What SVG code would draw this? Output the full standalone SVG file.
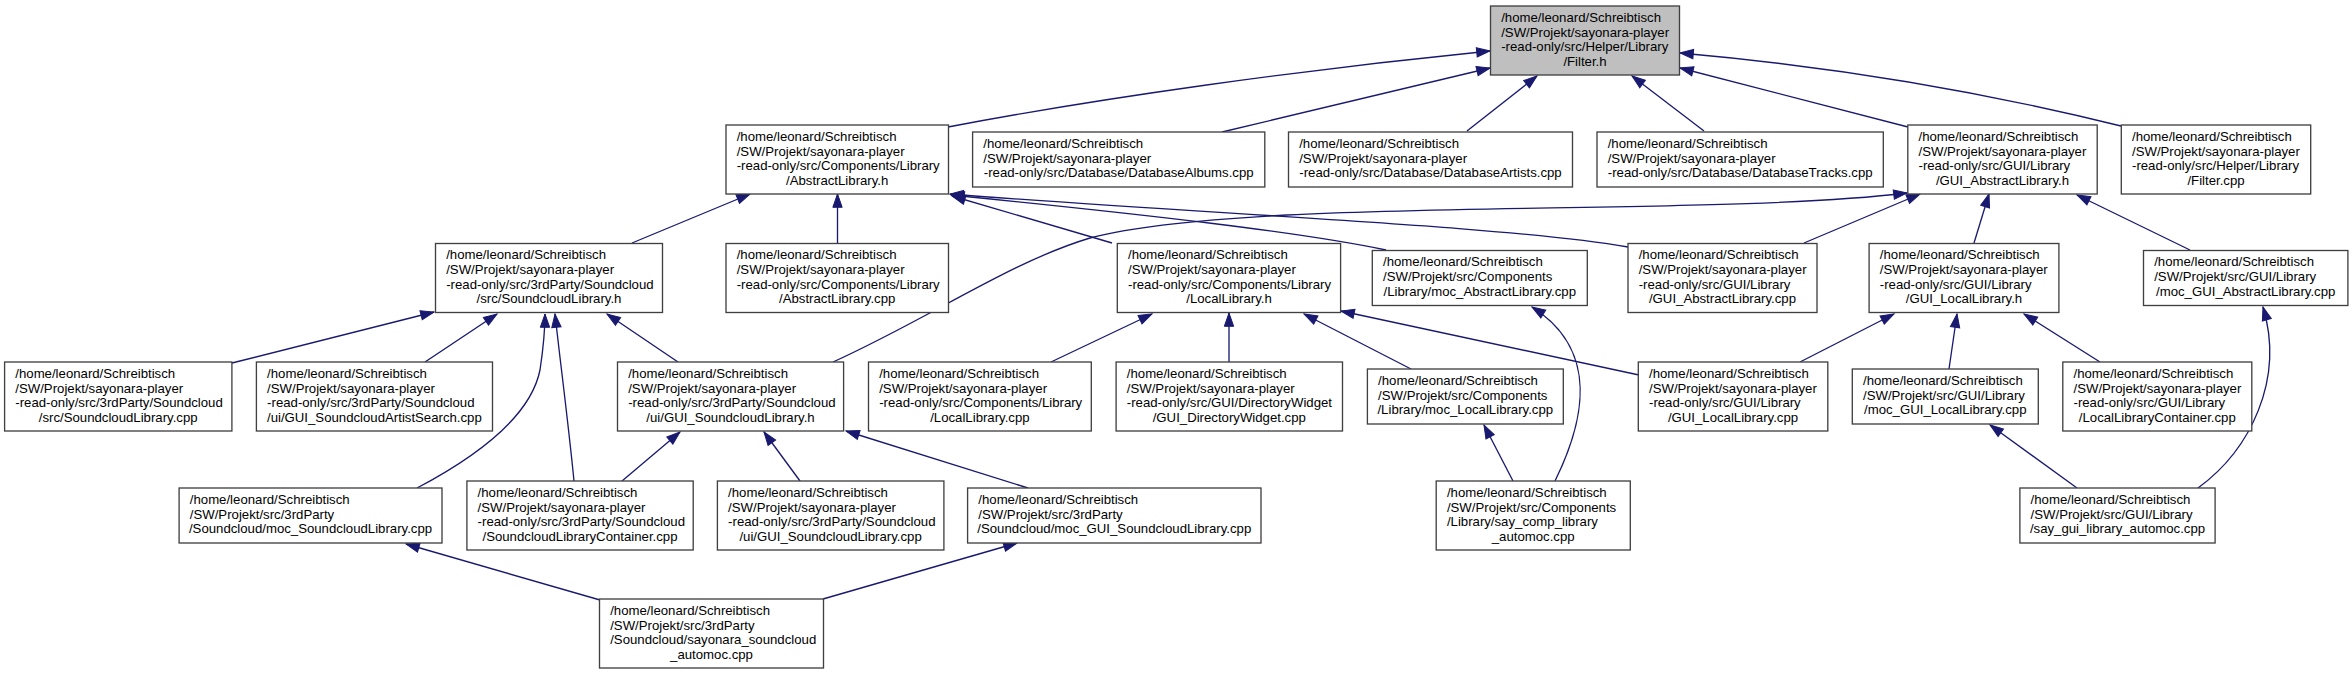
<svg xmlns="http://www.w3.org/2000/svg" width="2352" height="675" viewBox="0 0 2352 675">
<style>
.node rect{fill:#fff;stroke:#404040;stroke-width:1.33}
.node rect.main{fill:#bfbfbf}
.node text{font-family:"Liberation Sans",Arial,sans-serif;font-size:13.2px;fill:#000}
.node text.c{text-anchor:middle}
.edges path{fill:none;stroke:#191970;stroke-width:1.33;marker-end:url(#arr)}
</style>
<defs>
<marker id="arr" markerUnits="userSpaceOnUse" markerWidth="14" markerHeight="10" refX="13.3" refY="4.67" orient="auto" overflow="visible">
<path d="M0,0 L13.3,4.67 L0,9.33 z" fill="#191970" stroke="#191970" stroke-width="1"/>
</marker>
</defs>
<rect width="2352" height="675" fill="#fff"/>
<g class="edges">
<path d="M948,127 C1100,98 1300,70 1490,51"/>
<path d="M1222,132 L1490,68"/>
<path d="M1467,131 L1537,76"/>
<path d="M1704,131 L1632,76"/>
<path d="M1908,127 L1680,68"/>
<path d="M2121,126 C2000,96 1850,68 1680,53"/>
<path d="M632,243 L750,194"/>
<path d="M837.5,243 L837.5,194"/>
<path d="M1112,243 L952,196"/>
<path d="M1386,250 C1300,232 1150,215 951,195"/>
<path d="M1628,247 C1500,225 1200,214 950,194"/>
<path d="M833,362 C930,318 1010,262 1090,238 C1250,196 1700,218 1907,193"/>
<path d="M1804,243 L1920,194"/>
<path d="M1974,243 L1989,194"/>
<path d="M2190,250 L2077,195"/>
<path d="M232,363 L434,312"/>
<path d="M425,362 L497,314"/>
<path d="M417,488 C470,460 530,420 540,370 C543,350 545,330 545,314"/>
<path d="M574,481 C568,420 560,360 555,314"/>
<path d="M678,362 L607,314"/>
<path d="M622,481 L680,432"/>
<path d="M800,481 L764,432"/>
<path d="M1028,488 L846,431"/>
<path d="M600,600 L406,544"/>
<path d="M823,599 L1017,543"/>
<path d="M1051,362 L1152,314"/>
<path d="M1229,362 L1229,313"/>
<path d="M1411,369 L1304,314"/>
<path d="M1639,375 L1341,311"/>
<path d="M1800,362 L1894,314"/>
<path d="M1949,369 L1957,314"/>
<path d="M2100,362 L2024,314"/>
<path d="M1555,481 C1585,420 1600,350 1532,307"/>
<path d="M1513,481 L1484,425"/>
<path d="M2077,488 L1990,425"/>
<path d="M2198,488 C2250,450 2285,380 2263,307"/>
</g>
<g id="n_filter_h" class="node"><rect class="main" x="1490.5" y="6" width="189" height="69"/>
<text x="1501.2" y="21.8">/home/leonard/Schreibtisch</text><text x="1501.2" y="36.5">/SW/Projekt/sayonara-player</text><text x="1501.2" y="51.1">-read-only/src/Helper/Library</text><text class="c" x="1585" y="65.8">/Filter.h</text></g>
<g id="n_abstractlibrary_h" class="node"><rect x="726" y="125" width="222.5" height="69"/>
<text x="736.7" y="140.8">/home/leonard/Schreibtisch</text><text x="736.7" y="155.5">/SW/Projekt/sayonara-player</text><text x="736.7" y="170.1">-read-only/src/Components/Library</text><text class="c" x="837.2" y="184.8">/AbstractLibrary.h</text></g>
<g id="n_databasealbums" class="node"><rect x="972.6" y="132" width="292.2" height="55"/>
<text x="983.3" y="147.8">/home/leonard/Schreibtisch</text><text x="983.3" y="162.5">/SW/Projekt/sayonara-player</text><text class="c" x="1118.7" y="177.1">-read-only/src/Database/DatabaseAlbums.cpp</text></g>
<g id="n_databaseartists" class="node"><rect x="1288.5" y="132" width="284" height="55"/>
<text x="1299.2" y="147.8">/home/leonard/Schreibtisch</text><text x="1299.2" y="162.5">/SW/Projekt/sayonara-player</text><text class="c" x="1430.5" y="177.1">-read-only/src/Database/DatabaseArtists.cpp</text></g>
<g id="n_databasetracks" class="node"><rect x="1597" y="132" width="286.3" height="55"/>
<text x="1607.7" y="147.8">/home/leonard/Schreibtisch</text><text x="1607.7" y="162.5">/SW/Projekt/sayonara-player</text><text class="c" x="1740.2" y="177.1">-read-only/src/Database/DatabaseTracks.cpp</text></g>
<g id="n_gui_abstractlibrary_h" class="node"><rect x="1907.8" y="125" width="189.4" height="69"/>
<text x="1918.5" y="140.8">/home/leonard/Schreibtisch</text><text x="1918.5" y="155.5">/SW/Projekt/sayonara-player</text><text x="1918.5" y="170.1">-read-only/src/GUI/Library</text><text class="c" x="2002.5" y="184.8">/GUI_AbstractLibrary.h</text></g>
<g id="n_filter_cpp" class="node"><rect x="2121.3" y="125" width="189.4" height="69"/>
<text x="2132" y="140.8">/home/leonard/Schreibtisch</text><text x="2132" y="155.5">/SW/Projekt/sayonara-player</text><text x="2132" y="170.1">-read-only/src/Helper/Library</text><text class="c" x="2216" y="184.8">/Filter.cpp</text></g>
<g id="n_soundcloudlibrary_h" class="node"><rect x="435.5" y="243.5" width="227" height="69"/>
<text x="446.2" y="259.3">/home/leonard/Schreibtisch</text><text x="446.2" y="274">/SW/Projekt/sayonara-player</text><text x="446.2" y="288.6">-read-only/src/3rdParty/Soundcloud</text><text class="c" x="549" y="303.3">/src/SoundcloudLibrary.h</text></g>
<g id="n_abstractlibrary_cpp" class="node"><rect x="726" y="243.5" width="222.5" height="69"/>
<text x="736.7" y="259.3">/home/leonard/Schreibtisch</text><text x="736.7" y="274">/SW/Projekt/sayonara-player</text><text x="736.7" y="288.6">-read-only/src/Components/Library</text><text class="c" x="837.2" y="303.3">/AbstractLibrary.cpp</text></g>
<g id="n_locallibrary_h" class="node"><rect x="1117.3" y="243.5" width="223.3" height="69"/>
<text x="1128" y="259.3">/home/leonard/Schreibtisch</text><text x="1128" y="274">/SW/Projekt/sayonara-player</text><text x="1128" y="288.6">-read-only/src/Components/Library</text><text class="c" x="1229" y="303.3">/LocalLibrary.h</text></g>
<g id="n_moc_abstractlibrary" class="node"><rect x="1372.3" y="250.5" width="215" height="55"/>
<text x="1383" y="266.3">/home/leonard/Schreibtisch</text><text x="1383" y="281">/SW/Projekt/src/Components</text><text class="c" x="1479.8" y="295.6">/Library/moc_AbstractLibrary.cpp</text></g>
<g id="n_gui_abstractlibrary_cpp" class="node"><rect x="1628" y="243.5" width="189" height="69"/>
<text x="1638.7" y="259.3">/home/leonard/Schreibtisch</text><text x="1638.7" y="274">/SW/Projekt/sayonara-player</text><text x="1638.7" y="288.6">-read-only/src/GUI/Library</text><text class="c" x="1722.5" y="303.3">/GUI_AbstractLibrary.cpp</text></g>
<g id="n_gui_locallibrary_h" class="node"><rect x="1869.1" y="243.5" width="189.8" height="69"/>
<text x="1879.8" y="259.3">/home/leonard/Schreibtisch</text><text x="1879.8" y="274">/SW/Projekt/sayonara-player</text><text x="1879.8" y="288.6">-read-only/src/GUI/Library</text><text class="c" x="1964" y="303.3">/GUI_LocalLibrary.h</text></g>
<g id="n_moc_gui_abstractlibrary" class="node"><rect x="2143.5" y="250.5" width="204.4" height="55"/>
<text x="2154.2" y="266.3">/home/leonard/Schreibtisch</text><text x="2154.2" y="281">/SW/Projekt/src/GUI/Library</text><text class="c" x="2245.7" y="295.6">/moc_GUI_AbstractLibrary.cpp</text></g>
<g id="n_soundcloudlibrary_cpp" class="node"><rect x="4.6" y="362" width="227.3" height="69"/>
<text x="15.3" y="377.8">/home/leonard/Schreibtisch</text><text x="15.3" y="392.5">/SW/Projekt/sayonara-player</text><text x="15.3" y="407.1">-read-only/src/3rdParty/Soundcloud</text><text class="c" x="118.2" y="421.8">/src/SoundcloudLibrary.cpp</text></g>
<g id="n_gui_soundcloudartistsearch" class="node"><rect x="256.4" y="362" width="236.1" height="69"/>
<text x="267.1" y="377.8">/home/leonard/Schreibtisch</text><text x="267.1" y="392.5">/SW/Projekt/sayonara-player</text><text x="267.1" y="407.1">-read-only/src/3rdParty/Soundcloud</text><text class="c" x="374.4" y="421.8">/ui/GUI_SoundcloudArtistSearch.cpp</text></g>
<g id="n_gui_soundcloudlibrary_h" class="node"><rect x="617.5" y="362" width="226.1" height="69"/>
<text x="628.2" y="377.8">/home/leonard/Schreibtisch</text><text x="628.2" y="392.5">/SW/Projekt/sayonara-player</text><text x="628.2" y="407.1">-read-only/src/3rdParty/Soundcloud</text><text class="c" x="730.5" y="421.8">/ui/GUI_SoundcloudLibrary.h</text></g>
<g id="n_locallibrary_cpp" class="node"><rect x="868.5" y="362" width="222.8" height="69"/>
<text x="879.2" y="377.8">/home/leonard/Schreibtisch</text><text x="879.2" y="392.5">/SW/Projekt/sayonara-player</text><text x="879.2" y="407.1">-read-only/src/Components/Library</text><text class="c" x="979.9" y="421.8">/LocalLibrary.cpp</text></g>
<g id="n_gui_directorywidget" class="node"><rect x="1116.1" y="362" width="226.4" height="69"/>
<text x="1126.8" y="377.8">/home/leonard/Schreibtisch</text><text x="1126.8" y="392.5">/SW/Projekt/sayonara-player</text><text x="1126.8" y="407.1">-read-only/src/GUI/DirectoryWidget</text><text class="c" x="1229.3" y="421.8">/GUI_DirectoryWidget.cpp</text></g>
<g id="n_moc_locallibrary" class="node"><rect x="1367.4" y="369" width="195.9" height="55"/>
<text x="1378.1" y="384.8">/home/leonard/Schreibtisch</text><text x="1378.1" y="399.5">/SW/Projekt/src/Components</text><text class="c" x="1465.3" y="414.1">/Library/moc_LocalLibrary.cpp</text></g>
<g id="n_gui_locallibrary_cpp" class="node"><rect x="1638.3" y="362" width="189.5" height="69"/>
<text x="1649" y="377.8">/home/leonard/Schreibtisch</text><text x="1649" y="392.5">/SW/Projekt/sayonara-player</text><text x="1649" y="407.1">-read-only/src/GUI/Library</text><text class="c" x="1733" y="421.8">/GUI_LocalLibrary.cpp</text></g>
<g id="n_moc_gui_locallibrary" class="node"><rect x="1852.3" y="369" width="186" height="55"/>
<text x="1863" y="384.8">/home/leonard/Schreibtisch</text><text x="1863" y="399.5">/SW/Projekt/src/GUI/Library</text><text class="c" x="1945.3" y="414.1">/moc_GUI_LocalLibrary.cpp</text></g>
<g id="n_locallibrarycontainer" class="node"><rect x="2062.8" y="362" width="189" height="69"/>
<text x="2073.5" y="377.8">/home/leonard/Schreibtisch</text><text x="2073.5" y="392.5">/SW/Projekt/sayonara-player</text><text x="2073.5" y="407.1">-read-only/src/GUI/Library</text><text class="c" x="2157.3" y="421.8">/LocalLibraryContainer.cpp</text></g>
<g id="n_moc_soundcloudlibrary" class="node"><rect x="179.1" y="488" width="262.9" height="55"/>
<text x="189.8" y="503.8">/home/leonard/Schreibtisch</text><text x="189.8" y="518.5">/SW/Projekt/src/3rdParty</text><text class="c" x="310.5" y="533.1">/Soundcloud/moc_SoundcloudLibrary.cpp</text></g>
<g id="n_soundcloudlibrarycontainer" class="node"><rect x="466.9" y="481" width="226.3" height="69"/>
<text x="477.6" y="496.8">/home/leonard/Schreibtisch</text><text x="477.6" y="511.5">/SW/Projekt/sayonara-player</text><text x="477.6" y="526.1">-read-only/src/3rdParty/Soundcloud</text><text class="c" x="580" y="540.8">/SoundcloudLibraryContainer.cpp</text></g>
<g id="n_gui_soundcloudlibrary_cpp" class="node"><rect x="717.4" y="481" width="226.5" height="69"/>
<text x="728.1" y="496.8">/home/leonard/Schreibtisch</text><text x="728.1" y="511.5">/SW/Projekt/sayonara-player</text><text x="728.1" y="526.1">-read-only/src/3rdParty/Soundcloud</text><text class="c" x="830.6" y="540.8">/ui/GUI_SoundcloudLibrary.cpp</text></g>
<g id="n_moc_gui_soundcloudlibrary" class="node"><rect x="967.6" y="488" width="293.4" height="55"/>
<text x="978.3" y="503.8">/home/leonard/Schreibtisch</text><text x="978.3" y="518.5">/SW/Projekt/src/3rdParty</text><text class="c" x="1114.3" y="533.1">/Soundcloud/moc_GUI_SoundcloudLibrary.cpp</text></g>
<g id="n_say_comp_library_automoc" class="node"><rect x="1436.2" y="481" width="194.1" height="69"/>
<text x="1446.9" y="496.8">/home/leonard/Schreibtisch</text><text x="1446.9" y="511.5">/SW/Projekt/src/Components</text><text x="1446.9" y="526.1">/Library/say_comp_library</text><text class="c" x="1533.2" y="540.8">_automoc.cpp</text></g>
<g id="n_say_gui_library_automoc" class="node"><rect x="2019.9" y="488" width="195.2" height="55"/>
<text x="2030.6" y="503.8">/home/leonard/Schreibtisch</text><text x="2030.6" y="518.5">/SW/Projekt/src/GUI/Library</text><text class="c" x="2117.5" y="533.1">/say_gui_library_automoc.cpp</text></g>
<g id="n_sayonara_soundcloud_automoc" class="node"><rect x="599.5" y="599" width="224" height="69"/>
<text x="610.2" y="614.8">/home/leonard/Schreibtisch</text><text x="610.2" y="629.5">/SW/Projekt/src/3rdParty</text><text x="610.2" y="644.1">/Soundcloud/sayonara_soundcloud</text><text class="c" x="711.5" y="658.8">_automoc.cpp</text></g>
</svg>
